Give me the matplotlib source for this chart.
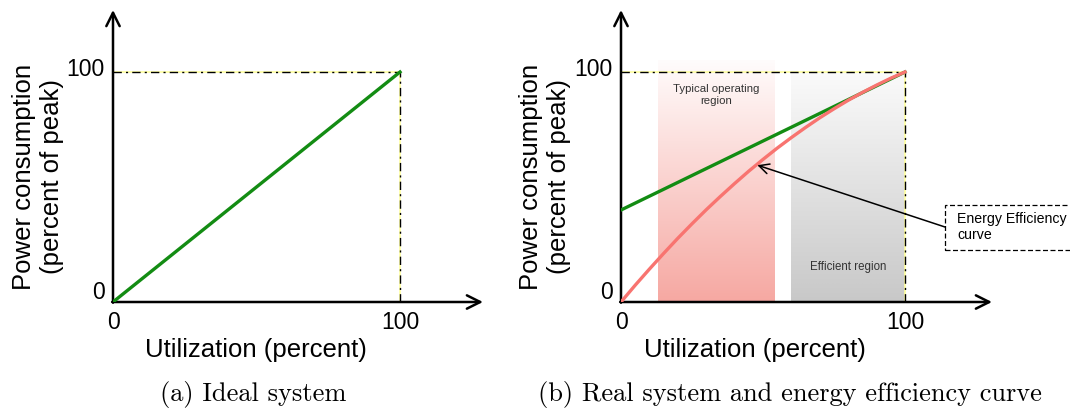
import numpy as np
import matplotlib
matplotlib.use('Agg')
import matplotlib.pyplot as plt
from matplotlib.colors import LinearSegmentedColormap
from matplotlib.patches import Rectangle

# =========================
# DATA
# =========================
ideal_util = [0, 100]
ideal_power = [0, 100]

real_util = [0, 100]
real_power = [40, 100]

eff_util = [0, 5, 10, 15, 20, 25, 30, 35, 40, 45, 50, 55, 60, 65, 70, 75, 80, 85, 90, 95, 100]
eff_power = [0, 7.3, 14.3, 21.1, 27.7, 34.0, 40.1, 45.9, 51.5, 56.9, 62.0, 66.9,
             71.5, 75.9, 80.1, 84.0, 87.7, 91.1, 94.3, 97.3, 100]

typical_region = [13, 54]
efficient_region = [60, 100]

tick_vals = [0, 100]
tick_labels = ["0", "100"]

# =========================
# STYLE
# =========================
SANS = "Liberation Sans"
SERIF = "cmr10"
GREEN = "#138c13"
RED = "#f87470"

fig = plt.figure(figsize=(10.7, 4.08), dpi=100)


def make_axes(left_px, xmax_px, scale_x):
    # axes box: x from left_px to xmax_px, y from 302 (bottom) to 10 (top) in pixels
    ax = fig.add_axes([left_px / 1070, (408 - 302) / 408,
                       (xmax_px - left_px) / 1070, 292 / 408])
    ax.set_xlim(0, (xmax_px - left_px) / scale_x)
    ax.set_ylim(0, 292 / 2.3)
    ax.axis("off")
    return ax


def draw_frame(ax):
    xmax = ax.get_xlim()[1]
    ymax = ax.get_ylim()[1]
    arrow = dict(arrowstyle="->", lw=1.8, color="black", mutation_scale=24,
                 shrinkA=0, shrinkB=0)
    ax.annotate("", xy=(xmax, 0), xytext=(-0.3, 0), arrowprops=arrow,
                annotation_clip=False)
    ax.annotate("", xy=(0, ymax), xytext=(0, -0.3), arrowprops=arrow,
                annotation_clip=False)
    # guide lines to (100, 100)
    ax.plot([0, 100], [100, 100], color="#ffffa0", lw=1.2, zorder=1)
    ax.plot([100, 100], [0, 100], color="#ffffa0", lw=1.2, zorder=1)
    ax.plot([0, 100], [100, 100], color="black", lw=1.0, ls=(0, (6, 3, 1.5, 3)), zorder=2)
    ax.plot([100, 100], [0, 100], color="black", lw=1.0, ls=(0, (6, 3, 1.5, 3)), zorder=2)
    for v, lab in zip(tick_vals, tick_labels):
        ax.text(v, -9, lab, ha="center", va="center", fontsize=16.5, family=SANS)
    ax.text(-3, 4.3, tick_labels[0], ha="right", va="center", fontsize=16.5, family=SANS)
    ax.text(-3, 101, tick_labels[1], ha="right", va="center", fontsize=16.5, family=SANS)


def side_labels(ylab_x, xlab_x, cap_x, caption):
    fig.text(ylab_x / 1070, 1 - 177 / 408, "Power consumption\n(percent of peak)",
             rotation=90, ha="center", va="center", fontsize=18.5, family=SANS,
             linespacing=1.25)
    fig.text(xlab_x / 1070, 1 - 350 / 408, "Utilization (percent)", ha="center",
             va="center", fontsize=18.5, family=SANS)
    fig.text(cap_x / 1070, 1 - 394 / 408, caption, ha="center",
             va="center", fontsize=19, family=SERIF)


# =========================
# (a) Ideal system
# =========================
ax1 = make_axes(113, 483, 2.87)
draw_frame(ax1)
ax1.plot(ideal_util, ideal_power, color=GREEN, lw=2.4, zorder=3)
side_labels(38, 256, 253, "(a) Ideal system")

# =========================
# (b) Real system
# =========================
ax2 = make_axes(621, 992, 2.84)

pink = LinearSegmentedColormap.from_list("pink", ["#fffcfc", "#f6a8a2"])
grey = LinearSegmentedColormap.from_list("grey", ["#fbfbfb", "#c8c8c8"])
grad = np.linspace(0, 1, 256).reshape(-1, 1)
ax2.imshow(grad, cmap=pink, aspect="auto", zorder=0, origin="upper",
           extent=[typical_region[0], typical_region[1], 0, 105])
ax2.imshow(grad, cmap=grey, aspect="auto", zorder=0, origin="upper",
           extent=[efficient_region[0], efficient_region[1], 0, 100])
ax2.set_xlim(0, 371 / 2.84)
ax2.set_ylim(0, 292 / 2.3)

draw_frame(ax2)
ax2.plot(real_util, real_power, color=GREEN, lw=2.4, zorder=3)
ax2.plot(eff_util, eff_power, color=RED, lw=2.4, zorder=4)

ax2.text(33.5, 90, "Typical operating\nregion", ha="center", va="center",
         fontsize=8.2, family=SANS, color="#333333", linespacing=1.15)
ax2.text(80, 15.2, "Efficient region", ha="center", va="center",
         fontsize=8.3, family=SANS, color="#333333")

# dashed callout box, runs past the right edge of the figure
ax2.add_patch(Rectangle((114.1, 22.6), 48, 19.6, fc="white", ec="black",
                        ls=(0, (4, 2)), lw=0.9, clip_on=False, zorder=5))
ax2.text(118.3, 32.6, "Energy Efficiency\ncurve", fontsize=10.2, family=SANS,
         ha="left", va="center", linespacing=1.2, zorder=6)
ax2.annotate("", xy=(48, 59.5), xytext=(114.1, 32.6),
             arrowprops=dict(arrowstyle="->", lw=1.1, color="black",
                             mutation_scale=18, shrinkA=0, shrinkB=0),
             annotation_clip=False, zorder=5)

side_labels(545, 755, 790, "(b) Real system and energy efficiency curve")

fig.savefig("out.png", dpi=100)
